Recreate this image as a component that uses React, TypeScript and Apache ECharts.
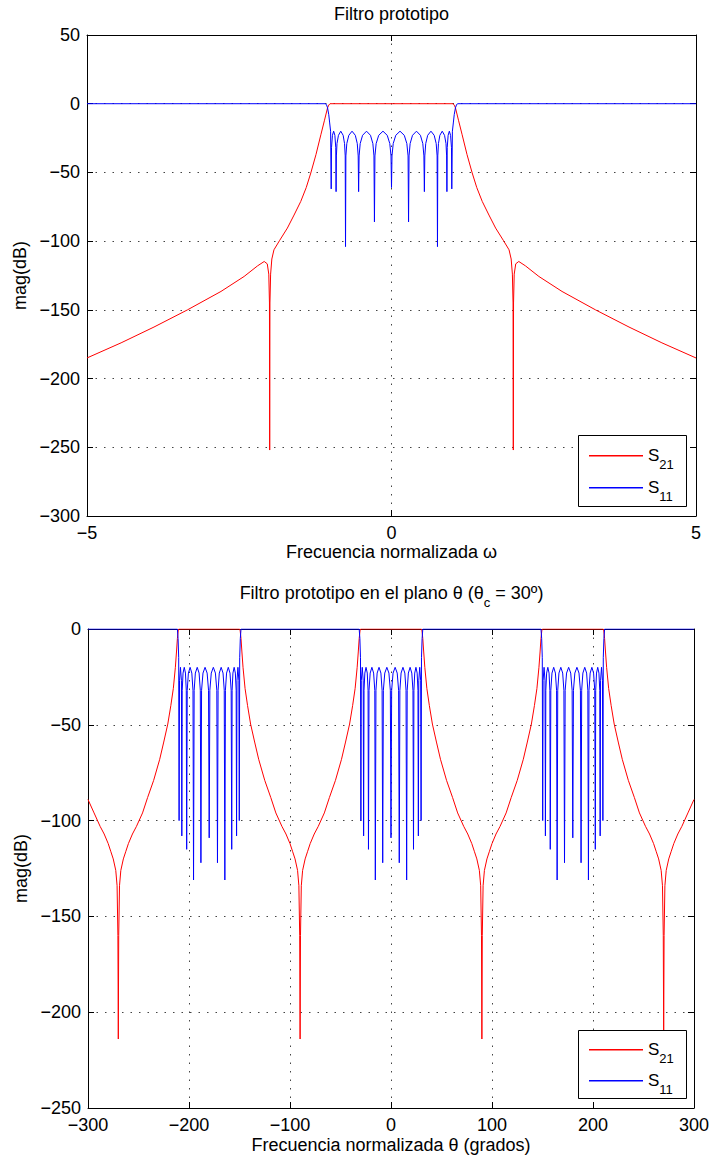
import React, { useEffect, useRef } from "react";
import * as echarts from "echarts";

// ---------- tick values ----------
const TOP_X_TICKS = [-5, 0, 5];
const TOP_Y_TICKS = [-300, -250, -200, -150, -100, -50, 0, 50];
const BOT_X_TICKS = [-300, -200, -100, 0, 100, 200, 300];
const BOT_Y_TICKS = [-250, -200, -150, -100, -50, 0];

// ---------- text ----------
const TITLE_TOP = "Filtro prototipo";
const TITLE_BOT = "Filtro prototipo en el plano θ (θ{s|c} = 30º)";
const XNAME_TOP = "Frecuencia normalizada ω";
const XNAME_BOT = "Frecuencia normalizada θ (grados)";
const YNAME = "mag(dB)";
const SERIES_NAMES = ["S21", "S11"];

// ---------- top chart: prototype filter (ω, dB) ----------
const TOP_S21: [number, number][] = [
  [-5, -185], [-4.44, -174], [-3.9, -162.5], [-3.35, -150], [-2.8, -136.6], [-2.42, -125.7],
  [-2.2, -118], [-2.09, -114.8], [-2.04, -116.5], [-2.015, -124], [-2.004, -145], [-2.0, -252],
  [-1.996, -145], [-1.985, -124], [-1.965, -113], [-1.93, -106.3], [-1.84, -99.7], [-1.71, -90.5],
  [-1.6, -81], [-1.49, -71.1], [-1.4, -61], [-1.325, -50.4], [-1.24, -37], [-1.16, -22.6],
  [-1.1, -12], [-1.05, -3], [-1.03, -1], [-1.01, 0],
  [1.01, 0], [1.03, -1], [1.05, -3], [1.1, -12], [1.16, -22.6], [1.24, -37], [1.325, -50.4],
  [1.4, -61], [1.49, -71.1], [1.6, -81], [1.71, -90.5], [1.84, -99.7], [1.93, -106.3],
  [1.965, -113], [1.985, -124], [1.996, -145], [2.0, -252], [2.004, -145], [2.015, -124],
  [2.04, -116.5], [2.09, -114.8], [2.2, -118], [2.42, -125.7], [2.8, -136.6], [3.35, -150],
  [3.9, -162.5], [4.44, -174], [5, -185],
];

const TOP_S11: [number, number][] = [
  [-5, 0], [-1.09, 0], [-1.07, -0.5], [-1.05, -3], [-1.03, -8], [-1.015, -14], [-1.0, -20], [-0.99, -62],
  [-0.985, -32], [-0.97, -23], [-0.95, -20], [-0.93, -23], [-0.915, -32], [-0.91, -64],
  [-0.905, -38], [-0.895, -29], [-0.871, -23], [-0.833, -20], [-0.794, -23], [-0.771, -29], [-0.76, -38], [-0.755, -104],
  [-0.749, -38], [-0.734, -29], [-0.701, -23], [-0.648, -20], [-0.594, -23], [-0.562, -29], [-0.547, -38], [-0.54, -64],
  [-0.532, -38], [-0.514, -29], [-0.475, -23], [-0.41, -20], [-0.345, -23], [-0.306, -29], [-0.288, -38], [-0.28, -86],
  [-0.272, -38], [-0.252, -29], [-0.21, -23], [-0.14, -20], [-0.07, -23], [-0.028, -29], [-0.008, -38], [0, -61],
  [0.008, -38], [0.028, -29], [0.07, -23], [0.14, -20], [0.21, -23], [0.252, -29], [0.272, -38], [0.28, -86],
  [0.288, -38], [0.306, -29], [0.345, -23], [0.41, -20], [0.475, -23], [0.514, -29], [0.532, -38], [0.54, -64],
  [0.547, -38], [0.562, -29], [0.594, -23], [0.648, -20], [0.701, -23], [0.734, -29], [0.749, -38], [0.755, -104],
  [0.76, -38], [0.771, -29], [0.794, -23], [0.833, -20], [0.871, -23], [0.895, -29], [0.905, -38], [0.91, -64],
  [0.915, -32], [0.93, -23], [0.95, -20], [0.97, -23], [0.985, -32], [0.99, -62],
  [1.0, -20], [1.015, -14], [1.03, -8], [1.05, -3], [1.07, -0.5], [1.09, 0], [5, 0],
];

// ---------- bottom chart: θ plane (degrees, dB) ----------
const BOT_S21: [number, number][] = [
  [-300, -89], [-294, -96], [-288, -103], [-284, -107], [-280, -112], [-277.5, -116], [-275, -120],
  [-272.5, -126], [-271.2, -134], [-270.4, -160], [-270, -214], [-269.6, -160], [-268.8, -134],
  [-267.5, -126], [-265, -120], [-262.5, -116], [-260, -112], [-256, -107], [-252, -103], [-246, -96],
  [-241, -88], [-235, -79], [-229, -68], [-225, -59], [-221, -49.6], [-218, -40], [-215.5, -31],
  [-213.5, -20], [-212.4, -12], [-211.5, -5], [-210.7, -1], [-210.2, 0],
  [-149.8, 0], [-149.3, -1], [-148.5, -5], [-147.6, -12], [-146.5, -20], [-144.5, -31], [-142, -40],
  [-139, -49.6], [-135, -59], [-131, -68], [-125, -79], [-119, -88], [-114, -96], [-108, -103],
  [-104, -107], [-100, -112], [-97.5, -116], [-95, -120], [-92.5, -126], [-91.2, -134], [-90.4, -160],
  [-90, -214], [-89.6, -160], [-88.8, -134], [-87.5, -126], [-85, -120], [-82.5, -116], [-80, -112],
  [-76, -107], [-72, -103], [-66, -96], [-61, -88], [-55, -79], [-49, -68], [-45, -59], [-41, -49.6],
  [-38, -40], [-35.5, -31], [-33.5, -20], [-32.4, -12], [-31.5, -5], [-30.7, -1], [-30.2, 0],
  [30.2, 0], [30.7, -1], [31.5, -5], [32.4, -12], [33.5, -20], [35.5, -31], [38, -40], [41, -49.6],
  [45, -59], [49, -68], [55, -79], [61, -88], [66, -96], [72, -103], [76, -107], [80, -112],
  [82.5, -116], [85, -120], [87.5, -126], [88.8, -134], [89.6, -160], [90, -214], [90.4, -160],
  [91.2, -134], [92.5, -126], [95, -120], [97.5, -116], [100, -112], [104, -107], [108, -103],
  [114, -96], [119, -88], [125, -79], [131, -68], [135, -59], [139, -49.6], [142, -40], [144.5, -31],
  [146.5, -20], [147.6, -12], [148.5, -5], [149.3, -1], [149.8, 0],
  [210.2, 0], [210.7, -1], [211.5, -5], [212.4, -12], [213.5, -20], [215.5, -31], [218, -40],
  [221, -49.6], [225, -59], [229, -68], [235, -79], [241, -88], [246, -96], [252, -103], [256, -107],
  [260, -112], [262.5, -116], [265, -120], [267.5, -126], [268.8, -134], [269.6, -160], [270, -214],
  [270.4, -160], [271.2, -134], [272.5, -126], [275, -120], [277.5, -116], [280, -112], [284, -107],
  [288, -103], [294, -96], [300, -89],
];

const BOT_S11: [number, number][] = [
  [-300, 0],
  [-211.5, 0], [-210.8, -5], [-210.2, -15], [-209.8, -100],
  [-209.4, -27], [-208.45, -20], [-207.5, -27], [-207.1, -108],
  [-206.7, -32], [-205.9, -23], [-204.7, -20], [-203.5, -23], [-202.7, -32], [-202.3, -115],
  [-201.75, -32], [-200.6, -23], [-198.9, -20], [-197.2, -23], [-196.05, -32], [-195.5, -131],
  [-194.9, -32], [-193.7, -23], [-191.85, -20], [-190, -23], [-188.8, -32], [-188.2, -122],
  [-187.55, -32], [-186.15, -23], [-184.1, -20], [-182.05, -23], [-180.65, -32], [-180, -109],
  [-179.35, -32], [-177.95, -23], [-175.9, -20], [-173.85, -23], [-172.45, -32], [-171.8, -122],
  [-171.2, -32], [-170, -23], [-168.15, -20], [-166.3, -23], [-165.1, -32], [-164.5, -131],
  [-163.95, -32], [-162.8, -23], [-161.1, -20], [-159.4, -23], [-158.25, -32], [-157.7, -115],
  [-157.3, -32], [-156.5, -23], [-155.3, -20], [-154.1, -23], [-153.3, -32], [-152.9, -108],
  [-152.5, -27], [-151.55, -20], [-150.6, -27], [-150.2, -100],
  [-149.8, -15], [-149.2, -5], [-148.5, 0],
  [-31.5, 0], [-30.8, -5], [-30.2, -15], [-29.8, -100],
  [-29.4, -27], [-28.45, -20], [-27.5, -27], [-27.1, -108],
  [-26.7, -32], [-25.9, -23], [-24.7, -20], [-23.5, -23], [-22.7, -32], [-22.3, -115],
  [-21.75, -32], [-20.6, -23], [-18.9, -20], [-17.2, -23], [-16.05, -32], [-15.5, -131],
  [-14.9, -32], [-13.7, -23], [-11.85, -20], [-10, -23], [-8.8, -32], [-8.2, -122],
  [-7.55, -32], [-6.15, -23], [-4.1, -20], [-2.05, -23], [-0.65, -32], [0, -109],
  [0.65, -32], [2.05, -23], [4.1, -20], [6.15, -23], [7.55, -32], [8.2, -122],
  [8.8, -32], [10, -23], [11.85, -20], [13.7, -23], [14.9, -32], [15.5, -131],
  [16.05, -32], [17.2, -23], [18.9, -20], [20.6, -23], [21.75, -32], [22.3, -115],
  [22.7, -32], [23.5, -23], [24.7, -20], [25.9, -23], [26.7, -32], [27.1, -108],
  [27.5, -27], [28.45, -20], [29.4, -27], [29.8, -100],
  [30.2, -15], [30.8, -5], [31.5, 0],
  [148.5, 0], [149.2, -5], [149.8, -15], [150.2, -100],
  [150.6, -27], [151.55, -20], [152.5, -27], [152.9, -108],
  [153.3, -32], [154.1, -23], [155.3, -20], [156.5, -23], [157.3, -32], [157.7, -115],
  [158.25, -32], [159.4, -23], [161.1, -20], [162.8, -23], [163.95, -32], [164.5, -131],
  [165.1, -32], [166.3, -23], [168.15, -20], [170, -23], [171.2, -32], [171.8, -122],
  [172.45, -32], [173.85, -23], [175.9, -20], [177.95, -23], [179.35, -32], [180, -109],
  [180.65, -32], [182.05, -23], [184.1, -20], [186.15, -23], [187.55, -32], [188.2, -122],
  [188.8, -32], [190, -23], [191.85, -20], [193.7, -23], [194.9, -32], [195.5, -131],
  [196.05, -32], [197.2, -23], [198.9, -20], [200.6, -23], [201.75, -32], [202.3, -115],
  [202.7, -32], [203.5, -23], [204.7, -20], [205.9, -23], [206.7, -32], [207.1, -108],
  [207.5, -27], [208.45, -20], [209.4, -27], [209.8, -100],
  [210.2, -15], [210.8, -5], [211.5, 0],
  [300, 0],
];

// ---------- styling ----------
const FONT = "'Liberation Sans', Arial, Helvetica, sans-serif";
const RED = "#ff0000";
const BLUE = "#0000ff";
const SERIES_COLORS = [RED, BLUE];

const fmt = (v: number) => (v < 0 ? "\u2212" + Math.abs(v) : String(v));

function range(ticks: number[]) {
  return { min: ticks[0], max: ticks[ticks.length - 1], interval: ticks[1] - ticks[0] };
}

const gridDots = { show: true, lineStyle: { color: "#444", width: 1, type: [1.5, 7] as any } };
const axLine = { show: true, onZero: false, lineStyle: { color: "#000", width: 1 } };
const axTick = { show: true, inside: true, length: 6, lineStyle: { color: "#000", width: 1 } };

function mainX(grid: number, ticks: number[], name: string, gap: number) {
  return {
    type: "value", gridIndex: grid, position: "bottom", ...range(ticks),
    axisLine: axLine, axisTick: axTick, splitLine: gridDots,
    axisLabel: { formatter: fmt, color: "#000", fontSize: 18, fontFamily: FONT, margin: 8 },
    name, nameLocation: "middle", nameGap: gap,
    nameTextStyle: { color: "#000", fontSize: 18, fontFamily: FONT },
  };
}
function sideX(grid: number, ticks: number[]) {
  return {
    type: "value", gridIndex: grid, position: "top", ...range(ticks),
    axisLine: axLine, axisTick: axTick, splitLine: { show: false }, axisLabel: { show: false },
  };
}
function mainY(grid: number, ticks: number[]) {
  return {
    type: "value", gridIndex: grid, position: "left", ...range(ticks),
    axisLine: axLine, axisTick: axTick, splitLine: gridDots,
    axisLabel: { formatter: fmt, color: "#000", fontSize: 18, fontFamily: FONT, margin: 7 },
    name: YNAME, nameLocation: "middle", nameGap: 54,
    nameTextStyle: { color: "#000", fontSize: 18, fontFamily: FONT },
  };
}
function sideY(grid: number, ticks: number[]) {
  return {
    type: "value", gridIndex: grid, position: "right", ...range(ticks),
    axisLine: axLine, axisTick: axTick, splitLine: { show: false }, axisLabel: { show: false },
  };
}

function line(name: string, color: string, xi: number, yi: number, data: [number, number][]) {
  return {
    type: "line", name, xAxisIndex: xi, yAxisIndex: yi, data,
    symbol: "none", showSymbol: false, smooth: false, color,
    lineStyle: { color, width: 1 }, itemStyle: { color },
    emphasis: { disabled: true }, silent: true, z: 3,
  };
}

// legend box drawn with graphic elements (box, sample lines, labels with subscripts)
const legendRich = {
  m: { fontSize: 17, lineHeight: 20, fontFamily: FONT, fill: "#000" },
  s: { fontSize: 13, lineHeight: 14, fontFamily: FONT, fill: "#000", padding: [18, 0, 0, 0] },
};
function legendBox(left: number, top: number, w: number, h: number, rowY: number[]) {
  const children: any[] = [
    {
      type: "rect", z: 100,
      shape: { x: left + 0.5, y: top + 0.5, width: w, height: h },
      style: { fill: "#fff", stroke: "#000", lineWidth: 1 },
    },
  ];
  SERIES_NAMES.forEach((n, i) => {
    children.push({
      type: "rect", z: 101,
      shape: { x: left + 11, y: rowY[i], width: 54, height: 1.4 },
      style: { fill: SERIES_COLORS[i], lineWidth: 0 },
    });
    children.push({
      type: "text", z: 101, x: left + 70, y: rowY[i] + 0.5,
      style: {
        text: "{m|S}{s|" + n.slice(1) + "}",
        verticalAlign: "middle", align: "left",
        fill: "#000", font: "17px " + FONT, rich: legendRich,
      },
    });
  });
  return children;
}

const option = {
  animation: false,
  textStyle: { fontFamily: FONT },
  title: [
    {
      text: TITLE_TOP, left: 391.5, top: 3, textAlign: "center", padding: 0,
      textStyle: { color: "#000", fontSize: 18, fontWeight: "normal", fontFamily: FONT, lineHeight: 22 },
    },
    {
      text: TITLE_BOT, left: 391.5, top: 582, textAlign: "center", padding: 0,
      textStyle: {
        color: "#000", fontSize: 18, fontWeight: "normal", fontFamily: FONT, lineHeight: 22,
        rich: { s: { fontSize: 13, lineHeight: 14, fontFamily: FONT, color: "#000", padding: [19, 0, 0, 0] } },
      },
    },
  ],
  grid: [
    { left: 87, top: 35, width: 609, height: 481, show: false },
    { left: 88, top: 629, width: 608, height: 479, show: false },
  ],
  xAxis: [
    mainX(0, TOP_X_TICKS, XNAME_TOP, 26),
    sideX(0, TOP_X_TICKS),
    mainX(1, BOT_X_TICKS, XNAME_BOT, 28),
    sideX(1, BOT_X_TICKS),
  ],
  yAxis: [
    mainY(0, TOP_Y_TICKS),
    sideY(0, TOP_Y_TICKS),
    mainY(1, BOT_Y_TICKS),
    sideY(1, BOT_Y_TICKS),
  ],
  graphic: [
    ...legendBox(578, 435, 108, 71, [455, 487]),
    ...legendBox(578, 1030, 108, 68, [1049, 1080]),
  ],
  series: [
    line(SERIES_NAMES[0], RED, 0, 0, TOP_S21),
    line(SERIES_NAMES[1], BLUE, 0, 0, TOP_S11),
    line(SERIES_NAMES[0], RED, 2, 2, BOT_S21),
    line(SERIES_NAMES[1], BLUE, 2, 2, BOT_S11),
  ],
};

export default function App() {
  const ref = useRef<HTMLDivElement>(null);
  useEffect(() => {
    if (!ref.current) return;
    const chart = echarts.init(ref.current, null, { renderer: "svg" });
    chart.setOption(option as any);
    return () => chart.dispose();
  }, []);
  return (
    <div
      ref={ref}
      style={{ position: "absolute", left: 0, top: 0, width: 712, height: 1160, background: "#fff" }}
    />
  );
}
